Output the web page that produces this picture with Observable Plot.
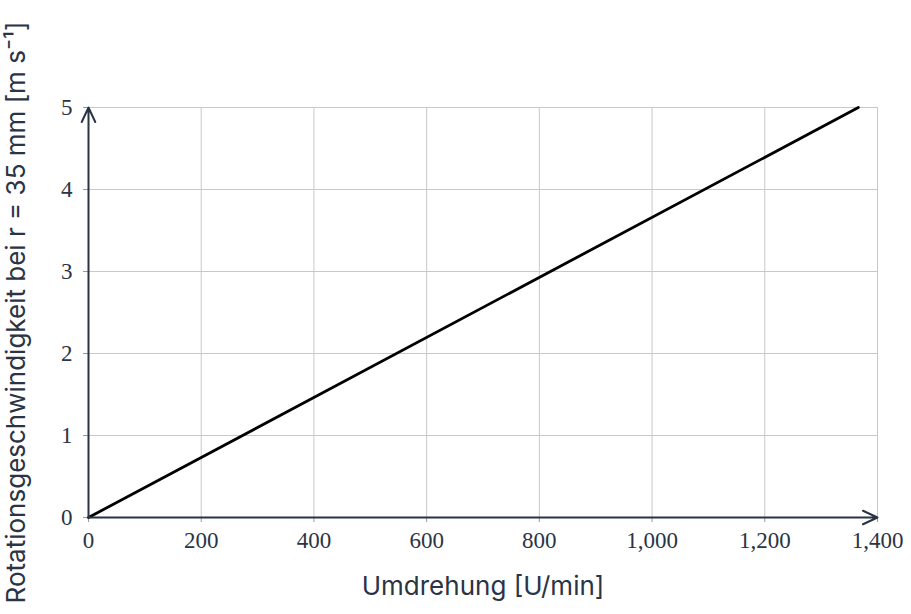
<!DOCTYPE html>
<html>
<head>
<meta charset="utf-8">
<script src="https://cdn.jsdelivr.net/npm/d3@7"></script>
<script src="https://cdn.jsdelivr.net/npm/@observablehq/plot@0.6"></script>
<style>
  html, body { margin: 0; padding: 0; background: #fff; }
</style>
</head>
<body>
<div id="chart"></div>
<script>
// Data
const rpm = [0, 1366];
const speed = [0, 5];
const xTicks = [0, 200, 400, 600, 800, 1000, 1200, 1400];
const yTicks = [0, 1, 2, 3, 4, 5];
const xDomain = [0, 1400];
const yDomain = [0, 5];
const xLabel = "Umdrehung [U/min]";
const yLabel = "Rotationsgeschwindigkeit bei r = 35 mm [m s\u207B\u00B9]";

const lineData = rpm.map((r, i) => ({rpm: r, v: speed[i]}));
const axisColor = "#2b3445";
const gridColor = "#c8c8c8";
const tickFont = "'Liberation Serif', 'DejaVu Serif', serif";
const labelFont = "Inter, 'Noto Sans', sans-serif";

const chart = Plot.plot({
  width: 911,
  height: 614,
  marginLeft: 88,
  marginRight: 34,
  marginTop: 107,
  marginBottom: 97,
  x: {domain: xDomain},
  y: {domain: yDomain},
  style: {background: "#fff", overflow: "visible"},
  marks: [
    Plot.gridX(xTicks, {stroke: gridColor, strokeOpacity: 1}),
    Plot.gridY(yTicks, {stroke: gridColor, strokeOpacity: 1}),
    Plot.axisX(xTicks, {
      tickFormat: d3.format(","),
      tickSize: 5, tickPadding: 9,
      stroke: "#999", fill: axisColor,
      fontFamily: tickFont, fontSize: 23, label: null
    }),
    Plot.axisY(yTicks, {
      tickFormat: d3.format("d"),
      tickSize: 5, tickPadding: 11,
      stroke: "#999", fill: axisColor,
      fontFamily: tickFont, fontSize: 23, label: null
    }),
    Plot.line(lineData, {x: "rpm", y: "v", stroke: "#000", strokeWidth: 2.8}),
    Plot.arrow([{x1: xDomain[0], y1: yDomain[0], x2: xDomain[1], y2: yDomain[0]}], {
      x1: "x1", y1: "y1", x2: "x2", y2: "y2",
      stroke: axisColor, strokeWidth: 2, headLength: 12, headAngle: 50
    }),
    Plot.arrow([{x1: xDomain[0], y1: yDomain[0], x2: xDomain[0], y2: yDomain[1]}], {
      x1: "x1", y1: "y1", x2: "x2", y2: "y2",
      stroke: axisColor, strokeWidth: 2, headLength: 12, headAngle: 50
    }),
    Plot.text([xLabel], {
      frameAnchor: "bottom", dy: 77, textAnchor: "middle",
      fontFamily: labelFont, fontSize: 26, fill: axisColor
    }),
    Plot.text([yLabel], {
      frameAnchor: "left", dx: -72, rotate: -90, textAnchor: "middle",
      fontFamily: labelFont, fontSize: 26, fill: axisColor
    })
  ]
});
document.getElementById("chart").appendChild(chart);
</script>
</body>
</html>
